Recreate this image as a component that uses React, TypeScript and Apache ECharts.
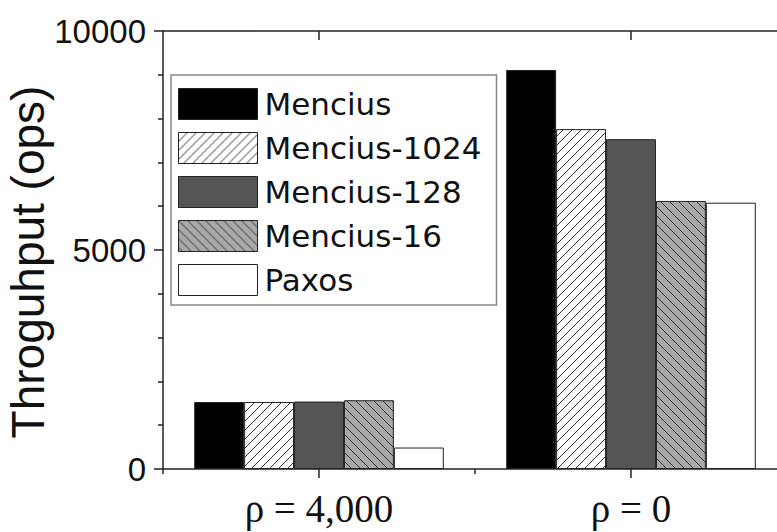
import React, { useEffect, useRef } from "react";
import * as echarts from "echarts";

const categories = ["ρ = 4,000", "ρ = 0"];
const seriesNames = ["Mencius", "Mencius-1024", "Mencius-128", "Mencius-16", "Paxos"];
const mencius = [1530, 9110];
const mencius1024 = [1530, 7760];
const mencius128 = [1540, 7530];
const mencius16 = [1570, 6120];
const paxos = [490, 6080];
const yTicks = [0, 5000, 10000];
const yTitle = "Throguhput (ops)";

function hatch(bg: string, line: string, dir: string, size = 9) {
  const c = document.createElement("canvas");
  c.width = size;
  c.height = size;
  const ctx = c.getContext("2d")!;
  ctx.fillStyle = bg;
  ctx.fillRect(0, 0, size, size);
  ctx.strokeStyle = line;
  ctx.lineWidth = 1;
  ctx.beginPath();
  if (dir === "/") {
    ctx.moveTo(-1, size + 1);
    ctx.lineTo(size + 1, -1);
    ctx.moveTo(-1, 1);
    ctx.lineTo(1, -1);
    ctx.moveTo(size - 1, size + 1);
    ctx.lineTo(size + 1, size - 1);
  } else {
    ctx.moveTo(-1, -1);
    ctx.lineTo(size + 1, size + 1);
    ctx.moveTo(size - 1, -1);
    ctx.lineTo(size + 1, 1);
    ctx.moveTo(-1, size - 1);
    ctx.lineTo(1, size + 1);
  }
  ctx.stroke();
  return { image: c, repeat: "repeat" } as any;
}

export default function App() {
  const ref = useRef<HTMLDivElement>(null);
  useEffect(() => {
    if (!ref.current) return;
    const chart = echarts.init(ref.current, undefined, { renderer: "svg" });
    const fills: any[] = [
      "#000000",
      hatch("#ffffff", "#333333", "/"),
      "#555555",
      hatch("#a8a8a8", "#333333", "\\"),
      "#ffffff",
    ];
    const values = [mencius, mencius1024, mencius128, mencius16, paxos];
    const axisLine = { show: true, lineStyle: { color: "#222", width: 1.5 } };
    const option: any = {
      animation: false,
      backgroundColor: "#ffffff",
      grid: {
        left: 163,
        right: -10,
        top: 31,
        bottom: 63,
        containLabel: false,
        outerBoundsMode: "none",
      },
      legend: {
        show: true,
        orient: "vertical",
        left: 171,
        top: 75,
        itemWidth: 79,
        itemHeight: 31,
        itemGap: 12,
        padding: [13, 15, 9, 7],
        borderColor: "#888",
        borderWidth: 1.5,
        backgroundColor: "#ffffff",
        icon: "rect",
        itemStyle: { borderColor: "#222", borderWidth: 1 },
        textStyle: { fontFamily: "DejaVu Sans", fontSize: 31, color: "#111", padding: [0, 0, 0, 2] },
        data: seriesNames,
      },
      xAxis: [
        {
          type: "category",
          data: categories,
          position: "bottom",
          axisLine,
          axisTick: { show: true, alignWithLabel: true, length: 9, lineStyle: { color: "#222", width: 1.5 } },
          axisLabel: {
            fontFamily: "Liberation Serif",
            fontSize: 39,
            color: "#111",
            margin: 20,
          },
          splitLine: { show: false },
        },
        {
          type: "category",
          data: categories,
          position: "bottom",
          axisLine: { show: false },
          axisTick: { show: true, length: 5, lineStyle: { color: "#222", width: 1.5 } },
          axisLabel: { show: false },
          splitLine: { show: false },
        },
        {
          type: "category",
          data: categories,
          position: "top",
          axisLine,
          axisTick: { show: true, inside: true, alignWithLabel: true, length: 9, lineStyle: { color: "#222", width: 1.5 } },
          axisLabel: { show: false },
          splitLine: { show: false },
        },
      ],
      yAxis: [
        {
          type: "value",
          min: yTicks[0],
          max: yTicks[yTicks.length - 1],
          interval: yTicks[1] - yTicks[0],
          axisLine,
          axisTick: { show: true, length: 9, lineStyle: { color: "#222", width: 1.5 } },
          minorTick: { show: true, splitNumber: 5, length: 5, lineStyle: { color: "#222", width: 1.5 } },
          splitLine: { show: false },
          minorSplitLine: { show: false },
          axisLabel: {
            fontFamily: "Liberation Sans",
            fontSize: 33,
            color: "#111",
            margin: 17,
            formatter: (v: number) => String(v),
          },
          name: yTitle,
          nameLocation: "middle",
          nameRotate: 90,
          nameGap: 112,
          nameMoveOverlap: false,
          nameTextStyle: {
            fontFamily: "Liberation Sans",
            fontSize: 46,
            color: "#111",
            padding: [0, 24, 0, 0],
          },
        },
      ],
      series: seriesNames.map((name, i) => ({
        name,
        type: "bar",
        xAxisIndex: 0,
        yAxisIndex: 0,
        data: values[i],
        barGap: "0%",
        barCategoryGap: "20%",
        itemStyle: { color: fills[i], borderColor: "#222", borderWidth: 1 },
        emphasis: { disabled: true },
      })),
    };
    chart.setOption(option);
    return () => chart.dispose();
  }, []);
  return (
    <div
      ref={ref}
      style={{ position: "absolute", left: 0, top: 0, width: 777, height: 532 }}
    />
  );
}
